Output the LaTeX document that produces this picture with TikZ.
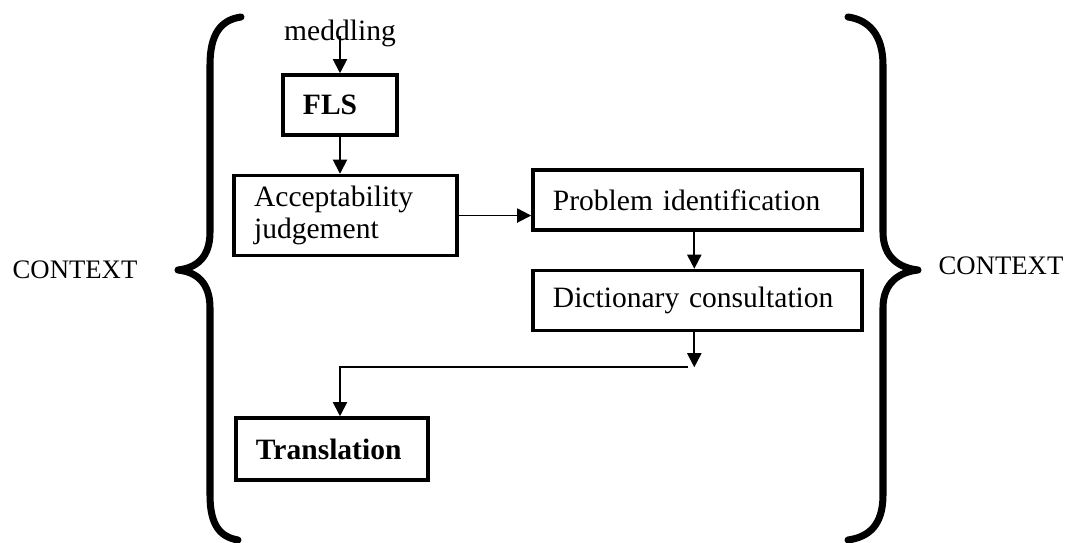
\documentclass[tikz,border=0pt]{standalone}
\usepackage{fontspec}
\setmainfont{Liberation Serif}
\usetikzlibrary{positioning,arrows.meta}

\begin{document}
\begin{tikzpicture}[x=0.025cm,y=-0.025cm,font=\fontsize{21}{22.5}\selectfont,
 B/.style={draw,line width=2.5pt,align=left,inner xsep=0.5cm,inner ysep=0pt,minimum height=1.5cm},
 A/.style={-{Triangle[length=10pt,width=10pt]},line width=1.3pt},
 brace/.style={line width=5pt,line cap=round,line join=round}]
 \useasboundingbox (0,0) rectangle (1068,543);
 \node(med) at (340,33){meddling};
 \node[B,text width=1.85cm](fls) at (340,105){\textbf{FLS}};
 \node[B,text width=4.575cm,minimum height=2cm,below=0.925cm of fls,xshift=0.14cm](acc){Acceptability\\judgement};
 \node[B,text width=7.225cm](pi) at (697.5,200){Problem identification};
 \node[B,text width=7.225cm,below=0.925cm of pi](dc){Dictionary consultation};
 \node[B,text width=3.8cm,minimum height=1.55cm](tr) at (332,449){\textbf{Translation}};
 \node[font=\fontsize{19}{22}\selectfont](ctxl) at (75,270){CONTEXT};
 \node[font=\fontsize{19}{22}\selectfont](ctxr) at (1001,266){CONTEXT};
 \coordinate[below=0.875cm of dc.south,xshift=-0.08cm](turn);
 \draw[A]([yshift=-2pt]med.center)--(fls.north);
 \draw[A](fls.south)--(fls.south |- acc.north);
 \draw[A](acc.east)--(acc.east -| pi.west);
 \draw[A]([xshift=-0.08cm]pi.south)--([xshift=-0.08cm]dc.north);
 \draw[A]([xshift=-0.08cm]dc.south)--(turn);
 \draw[A]([xshift=-0.15cm]turn)-|([xshift=0.2cm]tr.north);
 % the two braces
 \draw[brace](241,17) .. controls (220,20) and (210,35) .. (210,65)--(210,232) .. controls (210,258) and (196,268) .. (178,270) .. controls (196,272) and (210,282) .. (210,308)--(210,495) .. controls (210,525) and (220,537) .. (238,540);
 \draw[brace](848,17) .. controls (869,20) and (883,35) .. (883,65)--(883,232) .. controls (883,258) and (900,268) .. (918,270) .. controls (900,272) and (883,282) .. (883,308)--(883,495) .. controls (883,525) and (869,537) .. (848,540);
\end{tikzpicture}
\end{document}
